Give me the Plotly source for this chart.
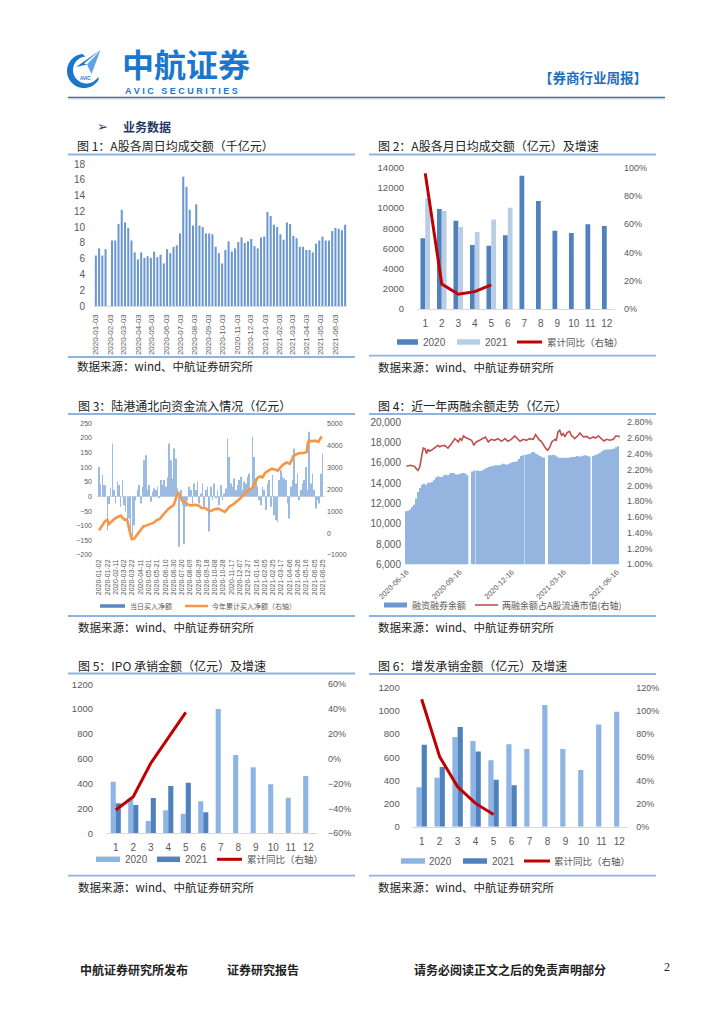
import plotly.graph_objects as go
import pandas as pd
import numpy as np

W, H = 724, 1024
def X(p): return p / W
def Y(p): return 1 - p / H

CJK = "Noto Sans CJK SC"
LAT = "Liberation Sans"
GRAY = "#595959"
DAY = 86400000

# ---------------- Chart 1: weekly average daily turnover (千亿元)
c1_values = [6.4, 7.3, 6.4, 7.2, 8.3, 8.3, 10.4, 12.2, 10.6, 9.9, 8.3, 6.8, 5.9, 6.8, 6.1, 6.3,
             6.1, 6.9, 6.2, 6.5, 5.4, 7.2, 6.7, 7.5, 7.7, 9.2, 16.4, 15.1, 12.2, 10.2, 12.9, 10.2,
             10.0, 9.2, 9.2, 9.1, 7.5, 6.7, 5.4, 7.1, 8.2, 6.9, 7.3, 8.1, 8.7, 8.0, 8.2, 8.5,
             7.6, 7.3, 8.7, 8.8, 11.9, 11.4, 10.3, 10.0, 9.1, 8.4, 10.6, 10.4, 8.9, 8.6, 7.5, 7.5,
             7.1, 7.1, 6.8, 7.9, 8.3, 8.8, 8.3, 8.3, 9.5, 9.9, 9.8, 9.6, 10.3]
c1_dates = [d for d in pd.date_range("2020-01-03", "2021-06-25", freq="W-FRI")
            if d != pd.Timestamp("2020-01-31")]
c1_ticks = list(pd.date_range("2020-01-01", "2021-06-01", freq="MS") + pd.Timedelta(days=2))

# ---------------- Chart 2: monthly average daily turnover (亿元)
months = list(range(1, 13))
c2_2020 = [7000, 9900, 8750, 6340, 6270, 7300, 13200, 10700, 7760, 7530, 8390, 8220]
c2_2021 = [10960, 9710, 8120, 7630, 8880, 10040]
c2_yoy = [0.96, 0.177, 0.104, 0.123, 0.17]

# ---------------- Chart 3: northbound flows (亿元)
c3_daily = [101, 42, 73, 39, 38, -115, -26, 30, 181, 22, -24, 50, 39, -35, 56, -30, -52, -92, -75, -115,
            -138, -98, -13, 22, 39, -24, 33, 124, 141, 22, 39, -18, 16, 27, 22, 33, -5, 56, 39, 56,
            33, 65, 181, 124, 61, 164, 130, 27, -172, 22, -30, -163, -35, -13, 33, 22, -24, 44, 22, 50,
            -24, 10, 44, -35, 22, 33, -120, 33, -13, 44, -3, 22, -30, 39, -13, 10, 27, 198, 135, 44,
            33, 61, 22, 39, 56, 67, 22, 50, 44, 67, 78, 22, 204, 135, 61, 33, -13, -30, 33, 22,
            -46, 44, 56, -35, 73, -64, -81, -87, 56, 90, 67, 61, 56, -24, -75, 33, 56, 164, 44, 78,
            -13, 22, 44, 56, 101, 22, 221, 44, 78, 22, -41, -13, -24, 78, 147]
c3_daily_dates = pd.date_range("2020-01-02", "2021-06-25", periods=len(c3_daily))
c3_cum_dates = ["2020-01-02", "2020-01-08", "2020-01-16", "2020-01-22", "2020-01-26", "2020-02-02",
                "2020-02-08", "2020-02-16", "2020-02-24", "2020-02-27", "2020-03-03", "2020-03-09",
                "2020-03-11", "2020-03-15", "2020-03-21", "2020-03-27", "2020-04-02", "2020-04-10",
                "2020-04-18", "2020-04-26", "2020-05-04", "2020-05-12", "2020-05-20", "2020-05-28",
                "2020-06-05", "2020-06-12", "2020-06-18", "2020-06-24", "2020-06-30", "2020-07-04",
                "2020-07-08", "2020-07-12", "2020-07-16", "2020-07-21", "2020-07-28", "2020-08-05",
                "2020-08-13", "2020-08-21", "2020-08-29", "2020-09-06", "2020-09-14", "2020-09-22",
                "2020-09-26", "2020-09-30", "2020-10-08", "2020-10-16", "2020-10-24", "2020-11-01",
                "2020-11-08", "2020-11-13", "2020-11-22", "2020-11-30", "2020-12-08", "2020-12-16",
                "2020-12-24", "2020-12-30", "2021-01-05", "2021-01-09", "2021-01-13", "2021-01-19",
                "2021-01-25", "2021-01-31", "2021-02-06", "2021-02-14", "2021-02-22", "2021-03-02",
                "2021-03-09", "2021-03-14", "2021-03-22", "2021-03-30", "2021-04-07", "2021-04-11",
                "2021-04-15", "2021-04-24", "2021-05-02", "2021-05-10", "2021-05-18", "2021-05-20",
                "2021-05-23", "2021-05-30", "2021-06-07", "2021-06-15", "2021-06-19", "2021-06-23"]
c3_cum = [120, 300, 530, 610, 410, 530, 650, 730, 790, 710, 610, 610, 530, 150, -280, -250, -100, 50,
          300, 350, 410, 460, 580, 650, 840, 990, 1110, 1190, 1260, 1470, 1750, 1820, 1630, 1470,
          1370, 1290, 1260, 1290, 1260, 1140, 1140, 1060, 990, 1020, 1090, 1110, 1020, 960, 1110,
          1220, 1320, 1440, 1570, 1750, 1900, 1980, 2020, 2170, 2360, 2510, 2580, 2540, 2740, 2840,
          2930, 2890, 2840, 2960, 3120, 3220, 3150, 3300, 3500, 3600, 3650, 3650, 3690, 4030, 4220,
          4180, 4210, 4150, 4260, 4410]
c3_ticks = list(pd.date_range("2020-01-02", "2021-06-25", freq="20D"))

# ---------------- Chart 4: margin balance (亿元) and ratio (%)
c4_seg1 = [11220, 11280, 11410, 11640, 11880, 12470, 13130, 13520, 13850, 13950, 13850, 14050, 14050,
           14110, 14280, 14570, 14670, 14600, 14600, 14770, 14840, 14770, 14900, 15000, 15000, 14870,
           14840, 14900, 14940, 15000, 14940, 14770]
c4_seg2 = [15160, 15260, 15260, 15200, 15200, 15300, 15430, 15530, 15590, 15660, 15690, 15760, 15760,
           15760, 15820, 15920, 15860, 15820, 15920, 16020, 16090, 16090, 16150, 16410, 16680, 16740,
           16810, 16840, 16910, 17040, 17070, 16910, 16810, 16680, 16580, 16510]
c4_seg3 = [16740, 16740, 16810, 16740, 16640, 16510, 16510, 16510, 16510, 16510, 16510, 16580, 16580,
           16610, 16680, 16640, 16640, 16710, 16740, 16710, 16640]
c4_seg4 = [16680, 16740, 16810, 16880, 17010, 17140, 17240, 17300, 17330, 17330, 17330, 17360, 17400,
           17530, 17630]
c4_segments = [("2020-06-16", "2020-09-30", c4_seg1), ("2020-10-09", "2021-02-10", c4_seg2),
               ("2021-02-18", "2021-04-30", c4_seg3), ("2021-05-06", "2021-06-18", c4_seg4)]
c4_ratio_dates = ["2020-06-16", "2020-06-19", "2020-06-23", "2020-06-27", "2020-06-30", "2020-07-03",
                  "2020-07-06", "2020-07-09", "2020-07-12", "2020-07-15", "2020-07-18", "2020-07-21",
                  "2020-07-23", "2020-07-26", "2020-07-29", "2020-08-04", "2020-08-10", "2020-08-13",
                  "2020-08-15", "2020-08-21", "2020-08-27", "2020-09-02", "2020-09-08", "2020-09-14",
                  "2020-09-17", "2020-09-20", "2020-09-23", "2020-09-25", "2020-10-01", "2020-10-07",
                  "2020-10-11", "2020-10-15", "2020-10-21", "2020-10-27", "2020-10-31", "2020-11-05",
                  "2020-11-10", "2020-11-16", "2020-11-22", "2020-11-28", "2020-12-04", "2020-12-09",
                  "2020-12-15", "2020-12-21", "2020-12-26", "2020-12-30", "2021-01-05", "2021-01-10",
                  "2021-01-16", "2021-01-22", "2021-01-26", "2021-01-29", "2021-02-02", "2021-02-05",
                  "2021-02-09", "2021-02-13", "2021-02-16", "2021-02-20", "2021-02-23", "2021-02-26",
                  "2021-03-01", "2021-03-03", "2021-03-06", "2021-03-09", "2021-03-12", "2021-03-15",
                  "2021-03-18", "2021-03-22", "2021-03-26", "2021-03-29", "2021-04-04", "2021-04-10",
                  "2021-04-13", "2021-04-19", "2021-04-25", "2021-04-30", "2021-05-06", "2021-05-10",
                  "2021-05-15", "2021-05-20", "2021-05-25", "2021-05-29", "2021-06-04", "2021-06-10",
                  "2021-06-14", "2021-06-18", "2021-06-21"]
c4_ratio = [2.242, 2.246, 2.255, 2.246, 2.242, 2.212, 2.191, 2.233, 2.360, 2.474, 2.466, 2.403, 2.457,
            2.432, 2.445, 2.474, 2.508, 2.487, 2.500, 2.508, 2.474, 2.529, 2.593, 2.551, 2.593, 2.572,
            2.627, 2.614, 2.593, 2.572, 2.508, 2.551, 2.572, 2.593, 2.614, 2.551, 2.584, 2.572, 2.593,
            2.559, 2.593, 2.559, 2.584, 2.627, 2.593, 2.559, 2.584, 2.572, 2.593, 2.584, 2.644, 2.614,
            2.572, 2.559, 2.508, 2.466, 2.445, 2.487, 2.551, 2.572, 2.584, 2.572, 2.677, 2.699, 2.635,
            2.656, 2.614, 2.669, 2.686, 2.635, 2.593, 2.635, 2.665, 2.614, 2.622, 2.593, 2.614, 2.601,
            2.627, 2.593, 2.563, 2.584, 2.572, 2.584, 2.627, 2.627, 2.614]
c4_ticks = ["2020-06-16", "2020-09-16", "2020-12-16", "2021-03-16", "2021-06-16"]

# ---------------- Chart 5: IPO underwriting (亿元)
c5_2020 = [416, 282, 99, 185, 158, 258, 1001, 631, 532, 395, 287, 462]
c5_2021 = [242, 228, 285, 381, 408, 169]
c5_yoy = [-41.2, -30.5, -3.6, 17.3, 37.4]

# ---------------- Chart 6: follow-on underwriting (亿元)
c6_2020 = [340, 423, 774, 740, 573, 711, 671, 1050, 671, 489, 883, 993]
c6_2021 = [708, 515, 860, 650, 406, 357]
c6_yoy = [110, 60.4, 34.5, 20.1, 10.6]

# ---------------- colours
DARK = "#4F81BD"
LIGHT2 = "#B9CDE5"
LIGHT5 = "#8DB4E2"
RED = "#C00000"
RULE = "#8DB3E2"

fig = go.Figure()

# chart 1
fig.add_trace(go.Bar(x=c1_dates, y=c1_values, xaxis="x", yaxis="y", width=4.4 * DAY,
                     marker=dict(color="#6A97D0", line=dict(width=0))))
# chart 2
fig.add_trace(go.Bar(x=months, y=c2_2020, xaxis="x2", yaxis="y2", marker=dict(color=DARK, line=dict(width=0))))
fig.add_trace(go.Bar(x=months[:len(c2_2021)], y=c2_2021, xaxis="x2", yaxis="y2",
                     marker=dict(color=LIGHT2, line=dict(width=0))))
fig.add_trace(go.Scatter(x=months[:len(c2_yoy)], y=c2_yoy, xaxis="x2", yaxis="y3", mode="lines",
                         line=dict(color=RED, width=3)))
# chart 3
fig.add_trace(go.Bar(x=c3_daily_dates, y=c3_daily, xaxis="x3", yaxis="y4", width=1.2 * DAY,
                     marker=dict(color="#9BBBE3", line=dict(width=0))))
fig.add_trace(go.Scatter(x=c3_cum_dates, y=c3_cum, xaxis="x3", yaxis="y5", mode="lines",
                         line=dict(color="#F79646", width=2.6)))
# chart 4
c4_x, c4_y = [], []
for s, e, vals in c4_segments:
    c4_x += list(pd.date_range(s, e, periods=len(vals)))
    c4_y += vals
fig.add_trace(go.Bar(x=c4_x, y=c4_y, xaxis="x4", yaxis="y6", width=2.8 * DAY,
                     marker=dict(color="#93B5E0", line=dict(width=0))))
fig.add_trace(go.Scatter(x=c4_ratio_dates, y=c4_ratio, xaxis="x4", yaxis="y7", mode="lines",
                         line=dict(color="#C0504D", width=1.6)))
# chart 5
fig.add_trace(go.Bar(x=months, y=c5_2020, xaxis="x5", yaxis="y8", marker=dict(color=LIGHT5, line=dict(width=0))))
fig.add_trace(go.Bar(x=months[:len(c5_2021)], y=c5_2021, xaxis="x5", yaxis="y8",
                     marker=dict(color=DARK, line=dict(width=0))))
fig.add_trace(go.Scatter(x=months[:len(c5_yoy)], y=c5_yoy, xaxis="x5", yaxis="y9", mode="lines",
                         line=dict(color=RED, width=3)))
# chart 6
fig.add_trace(go.Bar(x=months, y=c6_2020, xaxis="x6", yaxis="y10", marker=dict(color=LIGHT5, line=dict(width=0))))
fig.add_trace(go.Bar(x=months[:len(c6_2021)], y=c6_2021, xaxis="x6", yaxis="y10",
                     marker=dict(color=DARK, line=dict(width=0))))
fig.add_trace(go.Scatter(x=months[:len(c6_yoy)], y=c6_yoy, xaxis="x6", yaxis="y11", mode="lines",
                         line=dict(color=RED, width=3)))

for tr in fig.data:
    tr.showlegend = False
    tr.hoverinfo = "skip"

def ax(**kw):
    base = dict(showgrid=False, zeroline=False, ticks="", fixedrange=True, automargin=False,
                tickfont=dict(family=LAT, size=9.5, color=GRAY))
    base.update(kw)
    return base

layout = dict(
    width=W, height=H, autosize=False,
    margin=dict(l=0, r=0, t=0, b=0, pad=0, autoexpand=False),
    paper_bgcolor="white", plot_bgcolor="rgba(0,0,0,0)",
    barmode="group", bargap=0.42, bargroupgap=0, showlegend=False,
    font=dict(family=LAT, color=GRAY),
    # chart 1
    xaxis=ax(domain=[X(94), X(347)], anchor="y", type="date",
             range=["2019-12-30", "2021-06-29"], tickvals=c1_ticks, tickformat="%Y-%m-%d",
             tickangle=-90, tickfont=dict(family=LAT, size=8, color=GRAY),
             showline=True, linecolor="#D9D9D9", linewidth=1, ticklabelstandoff=4),
    yaxis=ax(domain=[Y(306), Y(164)], anchor="x", range=[0, 18], dtick=2,
             tickfont=dict(family=LAT, size=10, color=GRAY), ticklabelstandoff=8),
    # chart 2
    xaxis2=ax(domain=[X(417), X(615)], anchor="y2", range=[0.5, 12.5], tickvals=months,
              tickfont=dict(family=LAT, size=10, color=GRAY),
              showline=True, linecolor="#D9D9D9", linewidth=1, ticklabelstandoff=5),
    yaxis2=ax(domain=[Y(309), Y(167.7)], anchor="x2", range=[0, 14000], dtick=2000, tickformat="d",
              ticklabelstandoff=12),
    yaxis3=ax(overlaying="y2", side="right", anchor="x2", range=[0, 1], dtick=0.2, tickformat=".0%",
              tickfont=dict(family=LAT, size=9, color=GRAY), ticklabelstandoff=8),
    # chart 3
    xaxis3=ax(domain=[X(97), X(325)], anchor="y4", type="date",
              range=["2019-12-28", "2021-07-01"], tickvals=c3_ticks, tickformat="%Y-%m-%d",
              tickangle=-90, tickfont=dict(family=LAT, size=7, color=GRAY), ticklabelstandoff=2),
    yaxis4=ax(domain=[Y(555), Y(423.3)], anchor="x3", range=[-200, 250], dtick=50, tickformat="d",
              zeroline=True, zerolinecolor="#D9D9D9", zerolinewidth=1.2,
              tickfont=dict(family=LAT, size=7, color=GRAY), ticklabelstandoff=4),
    yaxis5=ax(overlaying="y4", side="right", anchor="x3", range=[-1000, 5000], dtick=1000,
              tickformat="d", tickfont=dict(family=LAT, size=7, color=GRAY), ticklabelstandoff=1),
    # chart 4
    xaxis4=ax(domain=[X(403), X(622)], anchor="y6", type="date",
              range=["2020-06-10", "2021-06-25"], tickvals=c4_ticks, tickformat="%Y-%m-%d",
              tickangle=-45, tickfont=dict(family=LAT, size=7.5, color=GRAY), ticklabelstandoff=1),
    yaxis6=ax(domain=[Y(564.3), Y(422.3)], anchor="x4", range=[6000, 20000], dtick=2000,
              tickformat=",d", tickfont=dict(family=LAT, size=10, color=GRAY), ticklabelstandoff=1),
    yaxis7=ax(overlaying="y6", side="right", anchor="x4", range=[1.0, 2.8], dtick=0.2,
              tickformat=".2f", ticksuffix="%", tickfont=dict(family=LAT, size=9, color=GRAY),
              ticklabelstandoff=4),
    # chart 5
    xaxis5=ax(domain=[X(107), X(317)], anchor="y8", range=[0.5, 12.5], tickvals=months,
              tickfont=dict(family=LAT, size=10, color=GRAY),
              showline=True, linecolor="#D9D9D9", linewidth=1, ticklabelstandoff=5),
    yaxis8=ax(domain=[Y(833.3), Y(684.3)], anchor="x5", range=[0, 1200], dtick=200, tickformat="d",
              ticklabelstandoff=13),
    yaxis9=ax(overlaying="y8", side="right", anchor="x5", range=[-60, 60], dtick=20, ticksuffix="%",
              tickfont=dict(family=LAT, size=9, color=GRAY), ticklabelstandoff=10),
    # chart 6
    xaxis6=ax(domain=[X(412.7), X(628.3)], anchor="y10", range=[0.5, 12.5], tickvals=months,
              tickfont=dict(family=LAT, size=10, color=GRAY),
              showline=True, linecolor="#D9D9D9", linewidth=1, ticklabelstandoff=5),
    yaxis10=ax(domain=[Y(826.7), Y(687.7)], anchor="x6", range=[0, 1200], dtick=200, tickformat="d",
               ticklabelstandoff=12),
    yaxis11=ax(overlaying="y10", side="right", anchor="x6", range=[0, 120], dtick=20, ticksuffix="%",
               tickfont=dict(family=LAT, size=9, color=GRAY), ticklabelstandoff=7),
)
fig.update_layout(**layout)

shapes = []
annots = []

def hline(x0, x1, y, color, width):
    shapes.append(dict(type="line", xref="paper", yref="paper", x0=X(x0), x1=X(x1), y0=Y(y), y1=Y(y),
                       line=dict(color=color, width=width)))

def rect(x0, x1, y0, y1, color):
    shapes.append(dict(type="rect", xref="paper", yref="paper", x0=X(x0), x1=X(x1), y0=Y(y1), y1=Y(y0),
                       fillcolor=color, line=dict(width=0)))

def text(x, y, s, size, color="#222222", family=CJK, anchor="left", height=None):
    a = dict(x=X(x), y=Y(y), xref="paper", yref="paper", text=s, showarrow=False,
             xanchor=anchor, yanchor="middle", font=dict(family=family, size=size, color=color))
    if height:
        a["height"] = height
    annots.append(a)

def poly(pts, color):
    path = "M " + " L ".join(f"{X(a):.5f},{Y(b):.5f}" for a, b in pts) + " Z"
    shapes.append(dict(type="path", xref="paper", yref="paper", path=path, fillcolor=color,
                       line=dict(width=0)))

# ---- header / logo
BLUE = "#1B76CE"
ang = np.radians(np.linspace(95, 330, 48))
outer = [(84 + 17 * np.cos(a), 71 - 17 * np.sin(a)) for a in ang]
inner = [(86.5 + 13.5 * np.cos(a), 70 - 13.5 * np.sin(a)) for a in ang[::-1]]
poly(outer + inner, BLUE)
poly([(100.5, 50), (76, 67), (87, 64.5)], BLUE)
poly([(100.5, 50), (87, 64.5), (91.5, 74)], "#5FA3E3")
poly([(100.5, 50), (84, 63.5), (87, 64.5)], "#FFFFFF")
text(85.5, 78.5, "<b>AVIC</b>", 4.5, BLUE, LAT, "center")
text(120, 63, "<b>中航证券</b>", 32, BLUE)
text(123, 91, "<b>A V I C   S E C U R I T I E S</b>", 9, BLUE, LAT)
text(537, 77, "<b>【券商行业周报】</b>", 13.5, "#1F6FC0")
hline(68, 665, 97.5, "#3F6DAA", 1.6)
hline(68, 665, 99, "#C9D3E0", 0.8)

# ---- section heading
text(95, 126, "➢", 13, "#1F3864", "DejaVu Sans")
text(121, 126, "<b>业务数据</b>", 12, "#1F3864")

# ---- chart frames
for (x0, x1, xt, yt, yl1, yl2, ys, title) in [
    (68, 355, 75, 145, 154.5, 357, 366, "图 1：A股各周日均成交额（千亿元）"),
    (369, 656, 376, 145, 154.5, 355.7, 367, "图 2：A股各月日均成交额（亿元）及增速"),
    (68, 355, 76, 405, 414, 616, 627, "图 3：陆港通北向资金流入情况（亿元）"),
    (369, 656, 376, 405, 414, 616, 627, "图 4：近一年两融余额走势（亿元）"),
    (68, 355, 76, 665, 673.5, 875.7, 887, "图 5：IPO 承销金额（亿元）及增速"),
    (369, 656, 376, 665, 674, 875.7, 887, "图 6：增发承销金额（亿元）及增速"),
]:
    text(xt, yt, title, 12, "#222222")
    hline(x0, x1, yl1, RULE, 1.8)
    hline(x0, x1, yl2, RULE, 1.8)
    text(xt, ys, "数据来源：wind、中航证券研究所", 11.5, "#222222")

# ---- manual legends
def leg_rect(x0, x1, y, h, color):
    rect(x0, x1, y - h / 2, y + h / 2, color)

def leg_line(x0, x1, y, color, w):
    shapes.append(dict(type="line", xref="paper", yref="paper", x0=X(x0), x1=X(x1), y0=Y(y), y1=Y(y),
                       line=dict(color=color, width=w)))

# chart 2
leg_rect(397, 418, 342, 5.5, DARK); text(421, 342, "2020", 10, GRAY, LAT)
leg_rect(457, 480, 342, 5.5, LIGHT2); text(483, 342, "2021", 10, GRAY, LAT)
leg_line(517, 542, 342, RED, 3); text(545, 342, "累计同比（右轴）", 9.5, GRAY)
# chart 3
leg_rect(100, 125, 606, 3.5, "#5A86C5"); text(128, 606, "当日买入净额", 7, GRAY)
leg_line(185, 208, 606, "#F79646", 2.5); text(210, 606, "今年累计买入净额（右轴）", 7, GRAY)
# chart 4
leg_rect(384, 407, 605, 5, "#6F98D0"); text(410, 605, "融资融券余额", 9, GRAY)
leg_line(475, 498, 605, "#C0504D", 1.6); text(500, 605, "两融余额占A股流通市值(右轴)", 9, GRAY)
# chart 5
leg_rect(96, 120, 859.3, 5.5, LIGHT5); text(122.5, 859.3, "2020", 10, GRAY, LAT)
leg_rect(157, 180, 859.3, 5.5, DARK); text(183.5, 859.3, "2021", 10, GRAY, LAT)
leg_line(217, 242, 859.3, RED, 3); text(245, 859.3, "累计同比（右轴）", 9.5, GRAY)
# chart 6
leg_rect(401, 425, 861, 5.5, LIGHT5); text(427, 861, "2020", 10, GRAY, LAT)
leg_rect(463, 487, 861, 5.5, DARK); text(490, 861, "2021", 10, GRAY, LAT)
leg_line(524, 550, 861, RED, 3); text(552, 861, "累计同比（右轴）", 9.5, GRAY)

# ---- footer
text(78, 969, "<b>中航证券研究所发布</b>", 12, "#222222")
text(225, 969, "<b>证券研究报告</b>", 12, "#222222")
text(412, 969, "<b>请务必阅读正文之后的免责声明部分</b>", 12, "#222222")
text(662, 967, "2", 12, "#222222", "Liberation Serif")

fig.update_layout(shapes=shapes, annotations=annots)
fig.write_html("out.html", config={"displayModeBar": False},
               post_script="document.body.style.margin='0px';document.body.style.padding='0px';")
